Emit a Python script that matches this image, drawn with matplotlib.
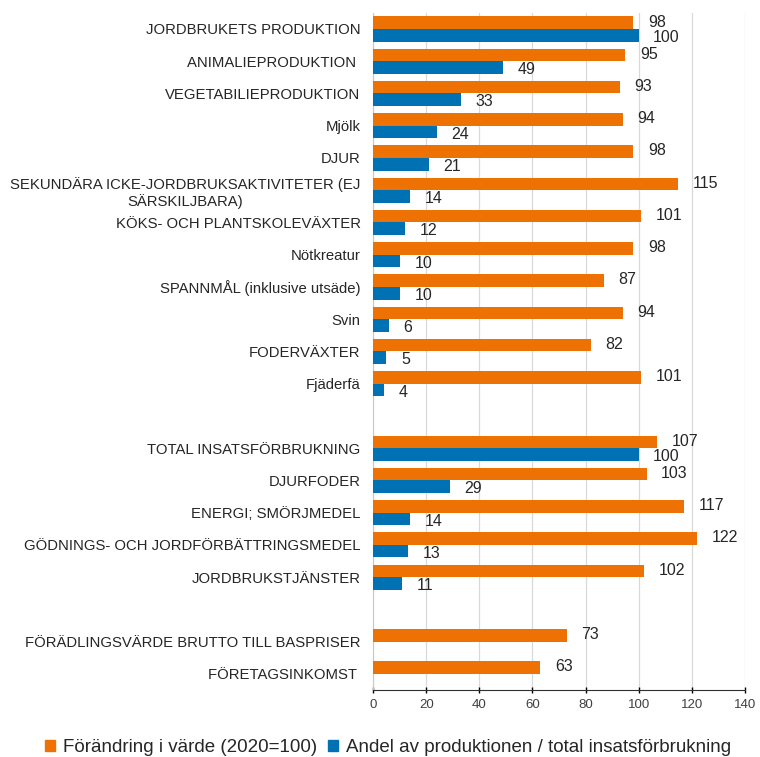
import matplotlib.pyplot as plt
import numpy as np

plt.rcParams["font.family"] = ["Liberation Sans", "DejaVu Sans"]

CATEGORIES = [
    "JORDBRUKETS PRODUKTION",
    "ANIMALIEPRODUKTION ",
    "VEGETABILIEPRODUKTION",
    "Mjölk",
    "DJUR",
    "SEKUNDÄRA ICKE-JORDBRUKSAKTIVITETER (EJ\nSÄRSKILJBARA)",
    "KÖKS- OCH PLANTSKOLEVÄXTER",
    "Nötkreatur",
    "SPANNMÅL (inklusive utsäde)",
    "Svin",
    "FODERVÄXTER",
    "Fjäderfä",
    "",
    "TOTAL INSATSFÖRBRUKNING",
    "DJURFODER",
    "ENERGI; SMÖRJMEDEL",
    "GÖDNINGS- OCH JORDFÖRBÄTTRINGSMEDEL",
    "JORDBRUKSTJÄNSTER",
    "",
    "FÖRÄDLINGSVÄRDE BRUTTO TILL BASPRISER",
    "FÖRETAGSINKOMST ",
]
CHANGE = [98, 95, 93, 94, 98, 115, 101, 98, 87, 94, 82, 101, None,
          107, 103, 117, 122, 102, None, 73, 63]
SHARE = [100, 49, 33, 24, 21, 14, 12, 10, 10, 6, 5, 4, None,
         100, 29, 14, 13, 11, None, None, None]
LEGEND_LABELS = ["Förändring i värde (2020=100)",
                 "Andel av produktionen / total insatsförbrukning"]

ORANGE = "#EE7203"
BLUE = "#0071B3"

fig = plt.figure(figsize=(7.6, 7.57), dpi=100)
ax = fig.add_axes([0.491, 0.0885, 0.489, 0.8945])

y = np.arange(len(CATEGORIES))
h = 0.39
# (values, bar offset in slots, colour, label nudge in points)
for vals, off, col, dy in ((CHANGE, -h / 2, ORANGE, 0.5),
                           (SHARE, h / 2, BLUE, -1.5)):
    idx = [i for i, v in enumerate(vals) if v is not None]
    v = [vals[i] for i in idx]
    ax.barh(y[idx] + off, v, height=h, color=col, zorder=3)
    for i, val in zip(idx, v):
        ax.annotate(str(val), xy=(val, i + off), xytext=(10.5, dy),
                    textcoords="offset points", ha="left", va="center",
                    fontsize=11.5, color="#262626")

ax.set_xlim(0, 140)
ax.set_ylim(len(CATEGORIES) - 0.5, -0.5)
ax.set_xticks(np.arange(0, 141, 20))
ax.set_yticks(y)
ax.set_yticklabels(CATEGORIES, fontsize=10.7, color="#262626")
for lbl in ax.get_yticklabels():
    lbl.set_multialignment("center")
ax.tick_params(axis="y", length=0, pad=9)
ax.tick_params(axis="x", direction="inout", length=5, width=1,
               labelsize=9.5, labelcolor="#404040", pad=4)
ax.grid(axis="x", color="#d9d9d9", linewidth=0.9, zorder=0)
for side in ("top", "right"):
    ax.spines[side].set_visible(False)
ax.spines["left"].set_color("#c8c8c8")
ax.spines["bottom"].set_color("#303030")

handles = [plt.Rectangle((0, 0), 1, 1, color=c) for c in (ORANGE, BLUE)]
fig.legend(handles, LEGEND_LABELS, loc="center left",
           bbox_to_anchor=(0.059, 0.012), ncol=2, frameon=False,
           fontsize=13.5, handlelength=0.55, handleheight=0.55,
           handletextpad=0.4, columnspacing=0.6, borderpad=0,
           borderaxespad=0, labelcolor="#262626")

fig.savefig("out.png", dpi=100)
